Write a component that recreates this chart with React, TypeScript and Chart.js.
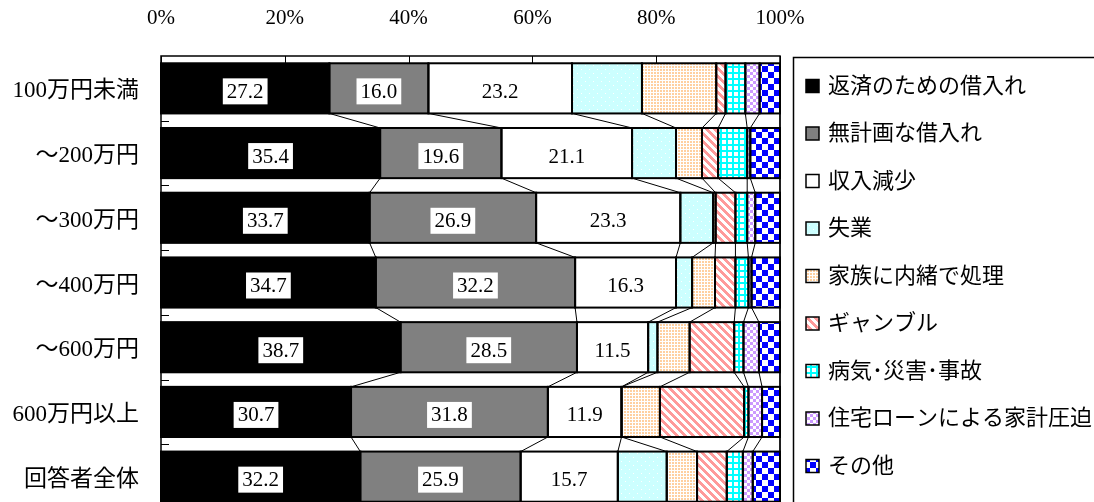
import React, { useEffect, useRef } from "react";
import { Chart, registerables } from "chart.js";

Chart.register(...registerables);

// 年収階層（カテゴリ）
const categories = ["100万円未満", "～200万円", "～300万円", "～400万円", "～600万円", "600万円以上", "回答者全体"];

// 系列名
const seriesNames = [
  "返済のための借入れ",
  "無計画な借入れ",
  "収入減少",
  "失業",
  "家族に内緒で処理",
  "ギャンブル",
  "病気･災害･事故",
  "住宅ローンによる家計圧迫",
  "その他",
];

// 構成比（%）
const repayment = [27.2, 35.4, 33.7, 34.7, 38.7, 30.7, 32.2];
const unplanned = [16.0, 19.6, 26.9, 32.2, 28.5, 31.8, 25.9];
const incomeDrop = [23.2, 21.1, 23.3, 16.3, 11.5, 11.9, 15.7];
const unemployment = [11.3, 7.1, 5.3, 2.6, 1.5, 0.0, 7.9];
const familySecret = [12.0, 4.2, 0.4, 3.7, 5.2, 6.2, 4.9];
const gambling = [1.5, 2.6, 3.2, 3.3, 7.2, 13.6, 4.8];
const illness = [3.2, 4.7, 1.9, 2.1, 1.5, 0.7, 2.6];
const mortgage = [2.3, 0.5, 1.3, 0.5, 2.5, 2.2, 1.6];
const other = [3.3, 4.8, 4.0, 4.6, 3.4, 2.9, 4.4];

const seriesValues = [repayment, unplanned, incomeDrop, unemployment, familySecret, gambling, illness, mortgage, other];

// 数値ラベルを付ける系列の数（先頭から）
const labeledSeries = 3;

// 目盛
const xTicks = [0, 20, 40, 60, 80, 100];

const FONT_FAMILY = '"Liberation Serif", "Noto Sans CJK JP", serif';

function makePattern(
  size: number,
  bg: string,
  fg: string,
  test: (x: number, y: number) => boolean
): CanvasPattern | string {
  const c = document.createElement("canvas");
  c.width = size;
  c.height = size;
  const g = c.getContext("2d");
  if (!g) return bg;
  g.fillStyle = bg;
  g.fillRect(0, 0, size, size);
  g.fillStyle = fg;
  for (let y = 0; y < size; y++) {
    for (let x = 0; x < size; x++) {
      if (test(x, y)) g.fillRect(x, y, 1, 1);
    }
  }
  return g.createPattern(c, "repeat") || bg;
}

function buildFills(): (CanvasPattern | string)[] {
  return [
    "#000000",
    "#808080",
    "#FFFFFF",
    makePattern(8, "#CCFFFF", "#FFFFFF", (x, y) => (x === 1 && y === 1) || (x === 5 && y === 5)),
    makePattern(3, "#FFFFFF", "#FFD0A0", (x, y) => x < 2 && y < 2),
    makePattern(8, "#FFFFFF", "#FF9A9A", (x, y) => (x - y + 16) % 8 < 4),
    makePattern(6, "#FFFFFF", "#00FFFF", (x, y) => x < 2 || y < 2),
    makePattern(6, "#FFFFFF", "#CC99FF", (x, y) => (Math.floor(x / 3) + Math.floor(y / 3)) % 2 === 0),
    makePattern(12, "#FFFFFF", "#0000FF", (x, y) => (Math.floor(x / 6) + Math.floor(y / 6)) % 2 === 0),
  ];
}

type BarProps = { x: number; y: number; base: number; height: number };

function barProps(el: any): BarProps {
  return el.getProps(["x", "y", "base", "height"], true) as BarProps;
}

// プロットエリアの枠と内向きの目盛線
const framePlugin = {
  id: "plotFrame",
  beforeDatasetsDraw(chart: any) {
    const { ctx, chartArea: a, scales } = chart;
    ctx.save();
    ctx.strokeStyle = "#000";
    ctx.lineWidth = 1.5;
    ctx.beginPath();
    ctx.moveTo(a.left, a.bottom + 4);
    ctx.lineTo(a.left, a.top);
    ctx.lineTo(a.right, a.top);
    ctx.lineTo(a.right, a.bottom + 4);
    ctx.stroke();
    ctx.lineWidth = 1;
    ctx.beginPath();
    xTicks.forEach((v) => {
      const px = Math.round(scales.x.getPixelForValue(v)) + 0.5;
      ctx.moveTo(px, a.top);
      ctx.lineTo(px, a.top + 7);
    });
    for (let i = 1; i < categories.length; i++) {
      const py = Math.round((scales.y.getPixelForValue(i - 1) + scales.y.getPixelForValue(i)) / 2) + 0.5;
      ctx.moveTo(a.left, py);
      ctx.lineTo(a.left + 8, py);
    }
    ctx.stroke();
    ctx.restore();
  },
};

// 区分線（隣り合う棒の境界を結ぶ線）、棒の枠線、数値ラベル
const barDecorPlugin = {
  id: "barDecor",
  afterDatasetsDraw(chart: any) {
    const { ctx } = chart;
    const count = chart.data.datasets.length;
    ctx.save();
    ctx.strokeStyle = "#000";

    // 区分線
    ctx.lineWidth = 1;
    ctx.beginPath();
    for (let d = 0; d < count; d++) {
      const els = chart.getDatasetMeta(d).data;
      for (let k = 0; k < els.length - 1; k++) {
        const p = barProps(els[k]);
        const q = barProps(els[k + 1]);
        ctx.moveTo(p.x, p.y + p.height / 2);
        ctx.lineTo(q.x, q.y - q.height / 2);
      }
    }
    ctx.stroke();

    // 棒の枠線
    ctx.lineWidth = 2;
    for (let d = 0; d < count; d++) {
      const els = chart.getDatasetMeta(d).data;
      els.forEach((el: any) => {
        const p = barProps(el);
        const left = Math.min(p.base, p.x);
        const w = Math.abs(p.x - p.base);
        ctx.strokeRect(left, p.y - p.height / 2, w, p.height);
      });
    }

    // 数値ラベル（白地のボックス）
    ctx.font = `21px ${FONT_FAMILY}`;
    ctx.textAlign = "center";
    ctx.textBaseline = "middle";
    for (let d = 0; d < Math.min(labeledSeries, count); d++) {
      const els = chart.getDatasetMeta(d).data;
      const values = chart.data.datasets[d].data as number[];
      els.forEach((el: any, k: number) => {
        const p = barProps(el);
        const text = values[k].toFixed(1);
        const cx = (p.x + p.base) / 2;
        const cy = p.y + 3;
        const tw = ctx.measureText(text).width;
        ctx.fillStyle = "#FFFFFF";
        ctx.fillRect(cx - tw / 2 - 4, cy - 13, tw + 8, 26);
        ctx.fillStyle = "#000000";
        ctx.fillText(text, cx, cy + 1);
      });
    }
    ctx.restore();
  },
};

// 凡例（枠付き、右側）
const legendPlugin = {
  id: "boxedLegend",
  afterDraw(chart: any) {
    const { ctx } = chart;
    const boxLeft = 793;
    const boxTop = 57;
    const firstY = 86;
    const step = 47.5;
    ctx.save();
    ctx.strokeStyle = "#000";
    ctx.lineWidth = 1.5;
    ctx.strokeRect(boxLeft + 0.5, boxTop + 0.5, 400, 500);
    ctx.font = `22px ${FONT_FAMILY}`;
    ctx.textAlign = "left";
    ctx.textBaseline = "middle";
    chart.data.datasets.forEach((ds: any, i: number) => {
      const cy = firstY + i * step;
      ctx.fillStyle = ds.backgroundColor;
      ctx.fillRect(806, cy - 6.5, 13, 13);
      ctx.lineWidth = 1.5;
      ctx.strokeStyle = "#000";
      ctx.strokeRect(806, cy - 6.5, 13, 13);
      ctx.fillStyle = "#000";
      ctx.fillText(ds.label, 828, cy + 1);
    });
    ctx.restore();
  },
};

export default function App() {
  const canvasRef = useRef<HTMLCanvasElement>(null);

  useEffect(() => {
    const canvas = canvasRef.current;
    if (!canvas) return;
    const fills = buildFills();

    const chart = new Chart(canvas, {
      type: "bar",
      data: {
        labels: categories,
        datasets: seriesValues.map((values, i) => ({
          label: seriesNames[i],
          data: values,
          backgroundColor: fills[i] as any,
          borderWidth: 0,
          barPercentage: 0.775,
          categoryPercentage: 1,
        })),
      },
      options: {
        indexAxis: "y",
        responsive: false,
        animation: false,
        devicePixelRatio: 1,
        layout: { padding: { left: 0, right: 314, top: 0, bottom: 0 } },
        plugins: {
          legend: { display: false },
          tooltip: { enabled: false },
        },
        scales: {
          x: {
            position: "top",
            stacked: true,
            min: 0,
            max: 100,
            grid: { display: false, drawTicks: false },
            border: { display: false },
            ticks: {
              stepSize: 20,
              padding: 25,
              color: "#000",
              font: { family: FONT_FAMILY, size: 21 },
              callback: (v: any) => `${v}%`,
            },
            afterFit: (scale: any) => {
              scale.height = 56;
              scale.paddingLeft = 0;
              scale.paddingRight = 0;
            },
          },
          y: {
            stacked: true,
            grid: { display: false, drawTicks: false },
            border: { display: false },
            ticks: {
              padding: 22,
              labelOffset: 3,
              color: "#000",
              font: { family: FONT_FAMILY, size: 23 },
            },
            afterFit: (scale: any) => {
              scale.width = 161;
              scale.paddingTop = 0;
              scale.paddingBottom = 0;
            },
          },
        },
      },
      plugins: [framePlugin, barDecorPlugin, legendPlugin],
    });

    return () => chart.destroy();
  }, []);

  return (
    <div
      style={{
        position: "fixed",
        left: 0,
        top: 0,
        width: 1094,
        height: 502,
        overflow: "hidden",
        background: "#fff",
      }}
    >
      <canvas ref={canvasRef} width={1094} height={509} style={{ display: "block", width: 1094, height: 509 }} />
    </div>
  );
}
